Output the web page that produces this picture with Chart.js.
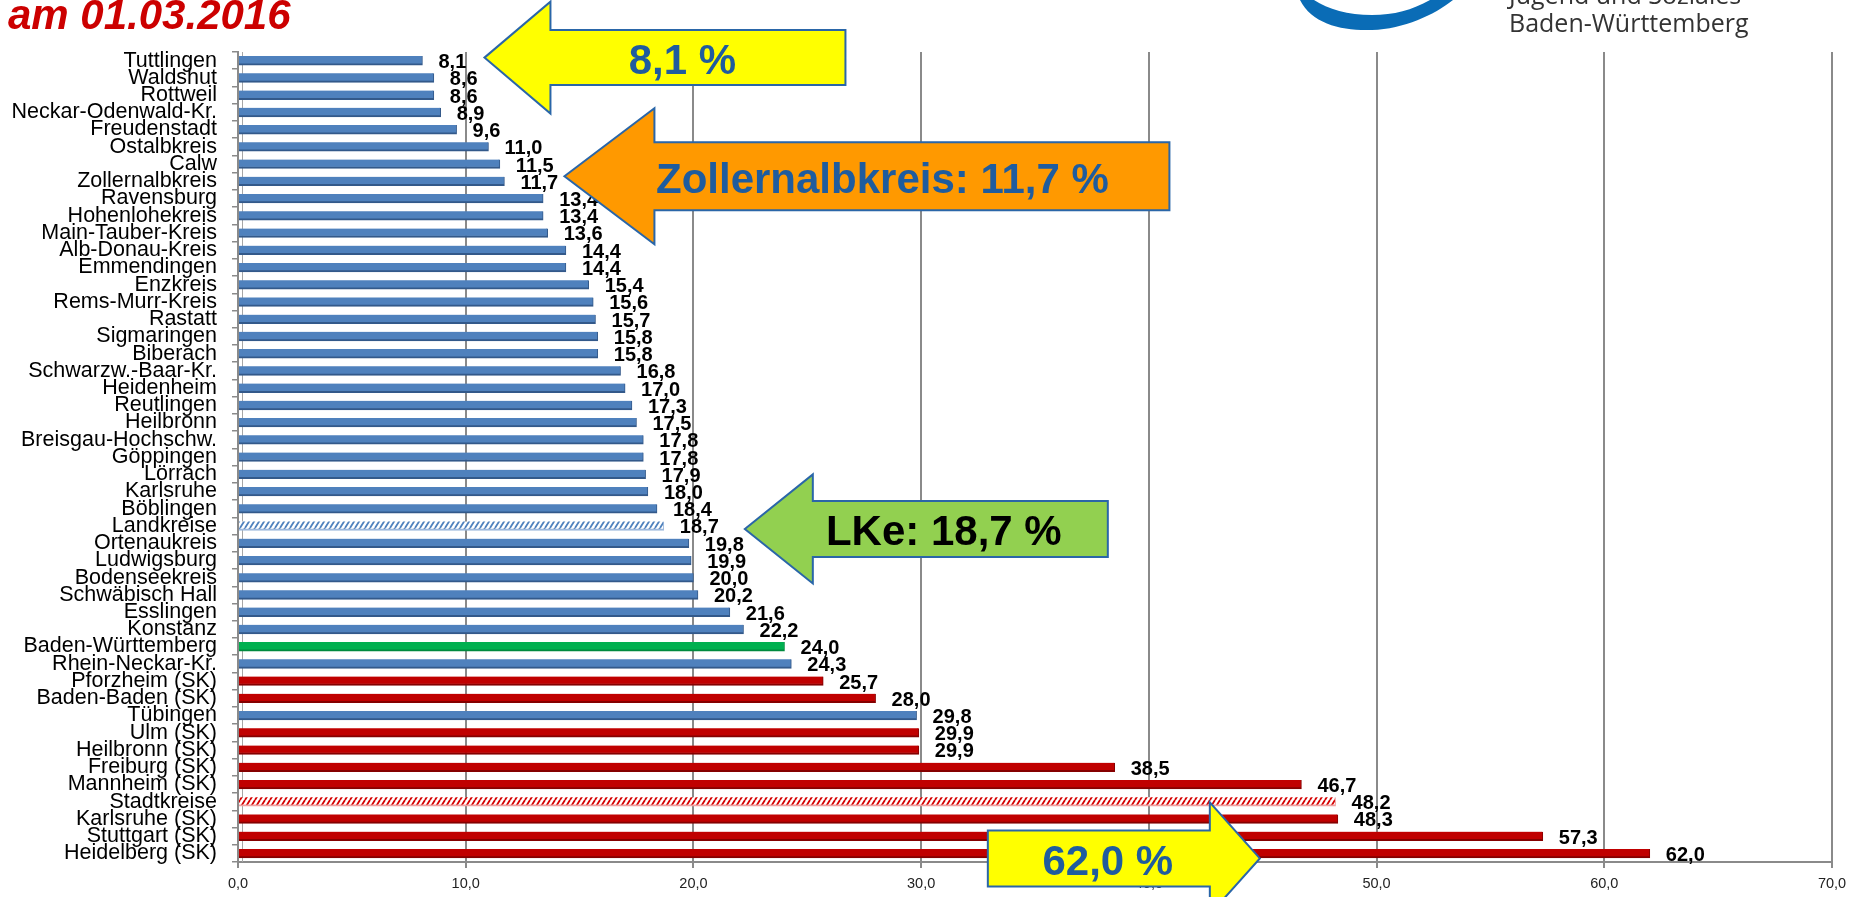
<!DOCTYPE html>
<html lang="de">
<head>
<meta charset="utf-8">
<title>am 01.03.2016</title>
<script src="https://cdn.jsdelivr.net/npm/chart.js@4.4.1/dist/chart.umd.min.js"></script>
<style>
  html, body { margin: 0; padding: 0; background: #fff; }
  canvas { display: block; }
</style>
</head>
<body>
<canvas id="quote" width="1854" height="897"></canvas>
<script>
// Kreise, Werte in %, am 01.03.2016
const districts = ['Tuttlingen', 'Waldshut', 'Rottweil', 'Neckar-Odenwald-Kr.', 'Freudenstadt',
  'Ostalbkreis', 'Calw', 'Zollernalbkreis', 'Ravensburg', 'Hohenlohekreis', 'Main-Tauber-Kreis',
  'Alb-Donau-Kreis', 'Emmendingen', 'Enzkreis', 'Rems-Murr-Kreis', 'Rastatt', 'Sigmaringen',
  'Biberach', 'Schwarzw.-Baar-Kr.', 'Heidenheim', 'Reutlingen', 'Heilbronn', 'Breisgau-Hochschw.',
  'Göppingen', 'Lörrach', 'Karlsruhe', 'Böblingen', 'Landkreise', 'Ortenaukreis', 'Ludwigsburg',
  'Bodenseekreis', 'Schwäbisch Hall', 'Esslingen', 'Konstanz', 'Baden-Württemberg',
  'Rhein-Neckar-Kr.', 'Pforzheim (SK)', 'Baden-Baden (SK)', 'Tübingen', 'Ulm (SK)',
  'Heilbronn (SK)', 'Freiburg (SK)', 'Mannheim (SK)', 'Stadtkreise', 'Karlsruhe (SK)',
  'Stuttgart (SK)', 'Heidelberg (SK)'];

const quotes = [8.1, 8.6, 8.6, 8.9, 9.6, 11.0, 11.5, 11.7, 13.4, 13.4, 13.6, 14.4, 14.4, 15.4,
  15.6, 15.7, 15.8, 15.8, 16.8, 17.0, 17.3, 17.5, 17.8, 17.8, 17.9, 18.0, 18.4, 18.7, 19.8, 19.9,
  20.0, 20.2, 21.6, 22.2, 24.0, 24.3, 25.7, 28.0, 29.8, 29.9, 29.9, 38.5, 46.7, 48.2, 48.3, 57.3, 62.0];

// L = Landkreis, S = Stadtkreis, LK = alle Landkreise, SK = alle Stadtkreise, BW = Land
const kinds = ['L', 'L', 'L', 'L', 'L', 'L', 'L', 'L', 'L', 'L', 'L', 'L', 'L', 'L', 'L', 'L',
  'L', 'L', 'L', 'L', 'L', 'L', 'L', 'L', 'L', 'L', 'L', 'LK', 'L', 'L', 'L', 'L', 'L', 'L', 'BW',
  'L', 'S', 'S', 'L', 'S', 'S', 'S', 'S', 'SK', 'S', 'S', 'S'];

const xTicks = [0, 10, 20, 30, 40, 50, 60, 70];

const fmt = v => v.toFixed(1).replace('.', ',');

const canvas = document.getElementById('quote');
const ctx = canvas.getContext('2d');

function hatch(color) {
  const c = document.createElement('canvas');
  c.width = 5; c.height = 8;
  const g = c.getContext('2d');
  g.fillStyle = '#fff';
  g.fillRect(0, 0, 5, 8);
  g.strokeStyle = color;
  g.lineWidth = 1.8;
  g.beginPath();
  for (const off of [-5, 0, 5]) {
    g.moveTo(off, 8);
    g.lineTo(off + 5, 0);
  }
  g.stroke();
  return ctx.createPattern(c, 'repeat');
}

const fills = { L: '#4F81BD', S: '#C00000', BW: '#00B050', LK: hatch('#4F81BD'), SK: hatch('#D40000') };
const edges = { L: '#33598A', S: '#850000', BW: '#008A3E', LK: '#9DB8DC', SK: '#F0A0A0' };

// Pfeile mit Hinweistext, an Kategorie und Wert verankert
const callouts = [
  { text: '8,1 %', at: 0, dir: 'left', fill: '#FFFF00', ink: '#1F5C9E', dx: 62, dy: -3,
    head: 66, headHalf: 56, shaft: 295, shaftHalf: 27.5, textDx: 198, textDy: 1.5 },
  { text: 'Zollernalbkreis: 11,7 %', at: 7, dir: 'left', fill: '#FF9900', ink: '#1F5C9E', dx: 60, dy: -5,
    head: 90, headHalf: 68, shaft: 515, shaftHalf: 34, textDx: 318, textDy: 2 },
  { text: 'LKe: 18,7 %', at: 27, dir: 'left', fill: '#92D050', ink: '#000000', dx: 81, dy: 3,
    head: 68, headHalf: 54.5, shaft: 295, shaftHalf: 28, textDx: 199, textDy: 1 },
  { text: '62,0 %', at: 46, dir: 'right', fill: '#FFFF00', ink: '#1F5C9E', dx: -390, dy: 5,
    head: 50, headHalf: 56, shaft: 222, shaftHalf: 28, textDx: -152, textDy: 2 }
];

const valueLabels = {
  id: 'valueLabels',
  afterDatasetsDraw(chart) {
    const c = chart.ctx;
    const meta = chart.getDatasetMeta(0);
    c.save();
    c.font = 'bold 20px "Liberation Sans", Arial, sans-serif';
    c.fillStyle = '#000';
    c.textAlign = 'left';
    c.textBaseline = 'middle';
    meta.data.forEach((bar, i) => {
      c.fillText(fmt(quotes[i]), bar.x + 16, bar.y + 2);
    });
    c.restore();
  }
};

const decorations = {
  id: 'decorations',
  beforeDatasetsDraw(chart) {
    // zweite Linie der 3D-Wand
    const a = chart.chartArea, c = chart.ctx;
    c.save();
    c.strokeStyle = '#a6a6a6';
    c.lineWidth = 1;
    c.beginPath();
    c.moveTo(a.left + 4.5, a.top);
    c.lineTo(a.left + 4.5, a.bottom);
    c.stroke();
    c.restore();
  },
  afterDraw(chart) {
    const c = chart.ctx;
    const xs = chart.scales.x, ys = chart.scales.y;
    c.save();

    callouts.forEach(o => {
      const tx = xs.getPixelForValue(quotes[o.at]) + o.dx;
      const ty = ys.getPixelForValue(o.at) + o.dy;
      const s = o.dir === 'left' ? 1 : -1;
      const bx = tx + s * o.head;
      const ex = bx + s * o.shaft;
      c.beginPath();
      c.moveTo(tx, ty);
      c.lineTo(bx, ty - o.headHalf);
      c.lineTo(bx, ty - o.shaftHalf);
      c.lineTo(ex, ty - o.shaftHalf);
      c.lineTo(ex, ty + o.shaftHalf);
      c.lineTo(bx, ty + o.shaftHalf);
      c.lineTo(bx, ty + o.headHalf);
      c.closePath();
      c.fillStyle = o.fill;
      c.fill();
      c.strokeStyle = '#2A66A8';
      c.lineWidth = 2;
      c.stroke();
      c.font = 'bold 42px "Liberation Sans", Arial, sans-serif';
      c.fillStyle = o.ink;
      c.textAlign = 'center';
      c.textBaseline = 'alphabetic';
      c.fillText(o.text, tx + o.textDx, ty + o.textDy + 15);
    });

    // Titelzeile (oben angeschnitten)
    c.font = 'italic bold 42px "Liberation Sans", Arial, sans-serif';
    c.fillStyle = '#CC0000';
    c.textAlign = 'left';
    c.fillText('am 01.03.2016', 8, 29);

    // KVJS-Logo (angeschnitten)
    c.fillStyle = '#0A6CB6';
    c.beginPath();
    c.moveTo(1300, 0);
    c.bezierCurveTo(1312, 24, 1342, 31, 1372, 30);
    c.bezierCurveTo(1404, 29, 1434, 15, 1453, 0);
    c.lineTo(1430, 0);
    c.bezierCurveTo(1412, 10, 1394, 15, 1372, 15);
    c.bezierCurveTo(1348, 15, 1328, 9, 1314, 0);
    c.closePath();
    c.fill();
    c.font = '25px "Open Sans", sans-serif';
    c.fillStyle = '#333';
    c.fillText('Jugend und Soziales', 1509, 4);
    c.fillText('Baden-Württemberg', 1509, 32);
    c.restore();
  }
};

new Chart(canvas, {
  type: 'bar',
  data: {
    labels: districts,
    datasets: [{
      data: quotes,
      backgroundColor: kinds.map(k => fills[k]),
      borderColor: kinds.map(k => edges[k]),
      borderWidth: { top: 0, right: 1, bottom: 2, left: 0 },
      borderSkipped: false,
      barThickness: 9
    }]
  },
  options: {
    indexAxis: 'y',
    responsive: false,
    animation: false,
    devicePixelRatio: 1,
    layout: { padding: { top: 52, right: 22, bottom: 0, left: 0 } },
    plugins: { legend: { display: false }, tooltip: { enabled: false } },
    scales: {
      x: {
        min: 0,
        max: 70,
        afterFit: s => { s.height = 35; },
        afterBuildTicks: s => { s.ticks = xTicks.map(v => ({ value: v })); },
        ticks: {
          callback: v => fmt(v),
          color: '#222',
          padding: 7,
          maxRotation: 0,
          font: { family: '"Liberation Sans", Arial, sans-serif', size: 14.5 }
        },
        grid: { color: '#8a8a8a', lineWidth: 2, tickLength: 6 },
        border: { color: '#8a8a8a', width: 2 }
      },
      y: {
        afterFit: s => { s.width = 238; },
        ticks: {
          autoSkip: false,
          color: '#000',
          padding: 15,
          font: { family: '"Liberation Sans", Arial, sans-serif', size: 21.5 }
        },
        grid: { offset: true, drawOnChartArea: false, color: '#8a8a8a', lineWidth: 1.5, tickLength: 6 },
        border: { color: '#8a8a8a', width: 2 }
      }
    }
  },
  plugins: [valueLabels, decorations]
});
</script>
</body>
</html>
